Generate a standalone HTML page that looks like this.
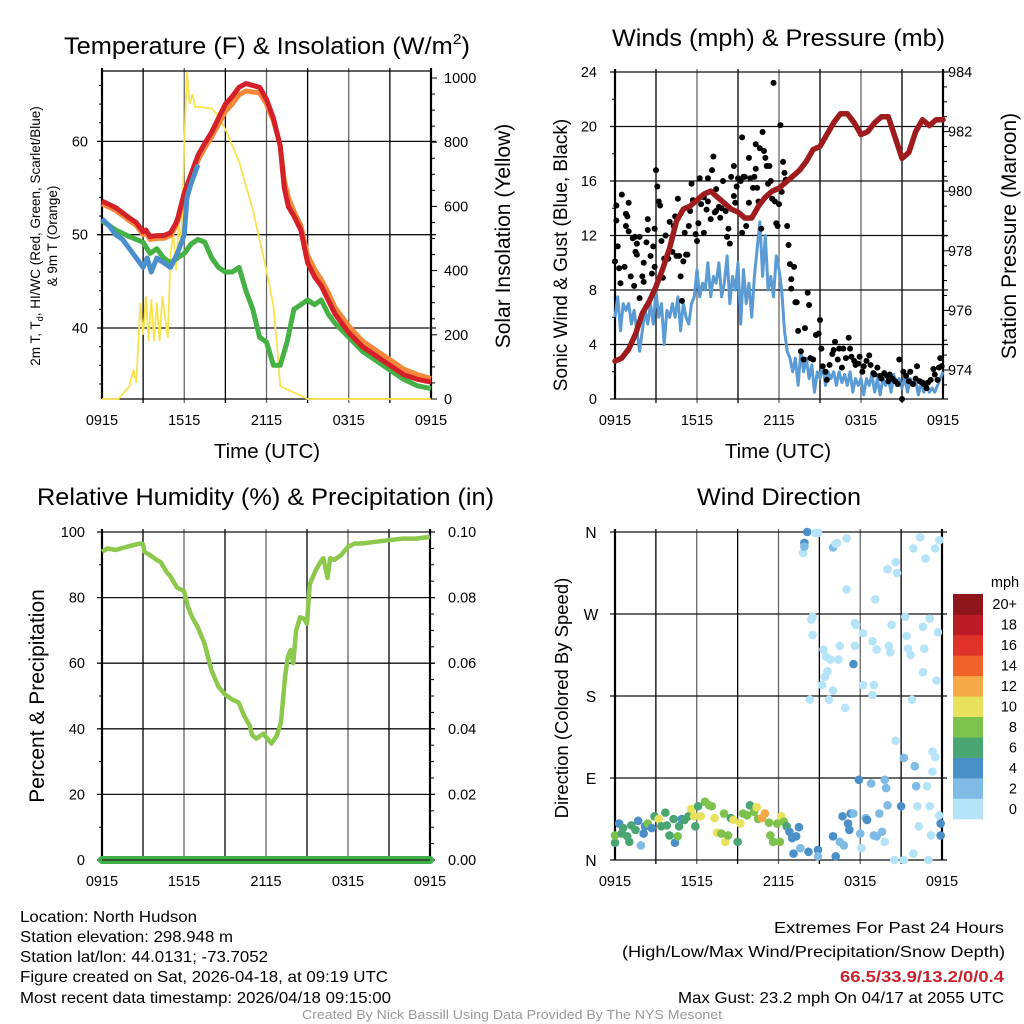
<!DOCTYPE html>
<html><head><meta charset="utf-8">
<style>
body{margin:0;background:#fff;}
svg{display:block;font-family:"Liberation Sans",Arial,sans-serif;}
</style></head>
<body>
<svg id="fig" width="1024" height="1024" viewBox="0 0 1024 1024" xmlns="http://www.w3.org/2000/svg">
<rect width="1024" height="1024" fill="#fff"/>
<text x="64" y="54" font-size="24" textLength="406" lengthAdjust="spacingAndGlyphs">Temperature (F) &amp; Insolation (W/m<tspan font-size="15" dy="-10">2</tspan><tspan dy="10">)</tspan></text>
<text x="612" y="46" font-size="24" textLength="333" lengthAdjust="spacingAndGlyphs">Winds (mph) &amp; Pressure (mb)</text>
<text x="37" y="505" font-size="24" textLength="457" lengthAdjust="spacingAndGlyphs">Relative Humidity (%) &amp; Precipitation (in)</text>
<text x="697" y="505" font-size="24" textLength="164" lengthAdjust="spacingAndGlyphs">Wind Direction</text>
<g id="p1"></g>
<g id="p2"></g>
<g id="p3"></g>
<g id="p4"></g>
<g font-size="16" lengthAdjust="spacingAndGlyphs">
<text x="20" y="922" textLength="177" lengthAdjust="spacingAndGlyphs">Location: North Hudson</text>
<text x="20" y="942" textLength="213" lengthAdjust="spacingAndGlyphs">Station elevation: 298.948 m</text>
<text x="20" y="962" textLength="248" lengthAdjust="spacingAndGlyphs">Station lat/lon: 44.0131; -73.7052</text>
<text x="20" y="982" textLength="368" lengthAdjust="spacingAndGlyphs">Figure created on Sat, 2026-04-18, at 09:19 UTC</text>
<text x="20" y="1003" textLength="371" lengthAdjust="spacingAndGlyphs">Most recent data timestamp: 2026/04/18 09:15:00</text>
</g>
<g font-size="16">
<text x="774" y="933" textLength="230" lengthAdjust="spacingAndGlyphs">Extremes For Past 24 Hours</text>
<text x="622" y="957" textLength="383" lengthAdjust="spacingAndGlyphs">(High/Low/Max Wind/Precipitation/Snow Depth)</text>
<text x="840" y="982" fill="#c8222b" font-weight="bold" textLength="164" lengthAdjust="spacingAndGlyphs">66.5/33.9/13.2/0/0.4</text>
<text x="678" y="1003" textLength="326" lengthAdjust="spacingAndGlyphs">Max Gust: 23.2 mph On 04/17 at 2055 UTC</text>
</g>
<text x="302" y="1019" font-size="13" fill="#999" textLength="420" lengthAdjust="spacingAndGlyphs">Created By Nick Bassill Using Data Provided By The NYS Mesonet</text>
</svg>
<script>
// ---- Panel 1 data ----
const redHours=[0,1,2,2.5,3,3.2,3.5,4,4.5,5,5.3,5.5,6,6.5,7,7.5,8,8.5,9,9.5,10,10.5,11,11.5,12,12.5,13,13.3,13.6,14,14.5,15,15.5,16,16.5,17,17.5,18,19,20,21,22,23,24];
const redTemp=[53.6,52.9,51.8,51.3,50.3,50.5,49.8,49.9,49.9,50.2,51,51.6,54.5,56.5,58.5,59.8,61,62.5,64,64.8,65.8,66.2,66,65.8,64.5,62.5,59.5,55,53,52,50.5,47,45.5,44.5,43,41.5,40.5,39.5,38,37,36,35,34.5,34.2];
const orangeTemp=[53.3,52.6,51.5,51,50,50.2,49.5,49.6,49.6,49.9,50.7,51.3,54,56,58,59.3,60.5,61.8,63.2,64,65,65.4,65.3,65.2,64,62.2,59.6,55.8,54,52.5,51,47.8,46.3,45.2,43.8,42.2,41.2,40.2,38.6,37.6,36.6,35.6,35,34.6];
const blueHours=[0,0.5,1,1.5,2,2.5,3,3.3,3.6,4,4.5,5,5.5,6,6.2,6.5,7];
const blueTemp=[51.7,51,50,49.5,48.5,47.5,46.5,47.5,46,47.5,47,46.5,48,50,54,55.5,57.5];
const greenHours=[0,1,2,3,3.5,4,4.5,5,6,6.5,7,7.5,8,8.5,9,9.5,10,10.5,11,11.5,12,12.5,13,13.5,14,14.5,15,15.5,16,16.5,17,18,19,20,21,22,23,24];
const greenTemp=[51.5,50.5,49.8,49.2,48,48.5,47.5,47,48,49,49.5,49.2,47.5,46.5,46,46,46.5,44,42,39,38.5,36,36,38.5,42,42.5,43,42.5,43,41.5,40.5,39,37.5,36.5,35.5,34.5,33.8,33.5];
const solarHours=[0,1.2,2,2.3,2.5,2.8,3,3.2,3.4,3.6,3.8,4,4.2,4.4,4.8,5,5.2,5.4,5.6,5.8,6,6.2,6.4,6.6,6.8,7,8,8.5,9,10,11,12,12.5,12.8,13,14,15,24];
const solarVals=[0,0,40,90,50,300,200,320,180,310,180,300,180,320,190,450,520,400,550,480,800,1020,920,950,910,910,905,880,840,740,590,400,290,150,40,20,0,0];
const tempTicks=[40,50,60];
const solarTicks=[0,200,400,600,800,1000];
const timeLabels=["0915","1515","2115","0315","0915"];
// ---- Panel 2 data ----
const windStep=0.2;
const windSpeed=[6,7.5,5,7,6.5,7,5.5,6.5,5,3.5,5,6.5,5.5,7,5.5,8,6,7,4,6.5,6,7,6,7.5,5,7,6,5.5,7,7.5,9.5,7.5,8.5,8,10,7.5,9,8.5,10,7.5,8.5,10.5,7,9,8,10,5.5,9.5,7,8.5,6,9,11,13,9,12,8,9,7.5,10.5,9.5,8,5,3.5,3,2,3,1,3.5,2,3,1.5,2.5,0.5,2,1.5,2.5,1,2,1.5,2,1,2,1.2,1.8,1,2,0.5,1.5,1,1.5,0.3,1.5,1,1.8,0.5,1.5,0.3,1.5,1,1.5,0.5,1.8,1,1.5,0.8,1.6,0.5,1.5,1,1.3,0.3,1.2,0.5,1,0.5,0.8,0.5,1,1.5,2];
const gustHours=[0,0.1,0.1,0.2,0.3,0.4,0.5,0.7,0.8,0.9,0.8,1,1,1.15,1.3,1.4,1.45,1.5,1.6,1.6,1.8,1.8,2,2.1,2.1,2.3,2.4,2.4,2.6,2.7,2.8,2.9,2.9,3,3.1,3.2,3.3,3.4,3.5,3.6,3.7,3.9,4,4.2,4.3,4.4,4.5,4.6,4.7,4.8,4.9,5,5.1,5.2,5.3,5.4,5.5,5.6,5.7,5.9,6,6.1,6.2,6.3,6.5,6.5,6.7,6.8,6.8,7,7.1,7.2,7.3,7.4,7.4,7.6,7.7,7.8,7.9,8.1,8.2,8.3,8.4,8.5,8.7,8.7,8.8,8.9,9,9.2,9.3,9.3,9.4,9.5,9.6,9.8,9.8,9.9,10.1,10.2,10.3,10.3,10.4,10.5,10.6,10.7,10.8,10.9,11,11.1,11.2,11.3,11.4,11.5,11.6,11.7,11.8,11.9,12,12.1,12.2,12.3,12.4,12.5,12.6,12.7,12.8,12.9,12.9,13.1,13.2,13.3,13.4,13.6,13.8,13.9,14.1,14.2,14.3,14.5,14.7,14.9,15,15.1,15.2,15.4,15.5,15.7,15.9,16,16.1,16.3,16.4,16.6,16.7,16.9,17.1,17.2,17.3,17.5,17.6,17.8,17.9,18.1,18.2,18.4,18.6,18.7,18.9,19,19.2,19.4,19.5,19.7,19.9,20,20.1,20.3,20.5,20.7,20.8,21,21.1,21.3,21.5,21.6,21.8,22,22.1,22.3,22.5,22.6,22.8,22.9,23.1,23.3,23.4,23.6,23.7,23.8,23.9];
const gustSpeed=[10.1,14.2,13.1,11.2,9.6,8.5,15,9.7,13.6,13.4,12.7,14.4,12.3,9,11.8,8.3,11.9,10.8,10.6,11.4,11.9,7.4,9,8.6,10,11.5,13.2,12.4,10.5,9.2,11.2,12.5,9.7,16.8,15.6,14.5,14.2,11.6,8.9,10.3,12,10.3,13,10.8,12.7,13.4,10.5,14.7,10.5,9,7.2,10.1,12.2,10.6,10.6,12.7,13.8,15.8,14.6,12.1,11.6,12.9,16.2,14.3,12.2,14.8,13.9,16.2,14.5,13.2,16.8,17.8,13.7,15.4,13.8,14.1,13.3,14,16,13.8,11.9,12.5,11.4,16.3,17.1,14.9,14.4,15.6,16.2,16,19.2,12.2,16.3,16.3,12.7,17.7,14.4,16.2,15.5,16.3,16.9,18.7,15.5,14.5,18.4,12.5,19.6,18.2,17.7,17.1,15.8,17.1,16,14.7,23.2,14.5,12.9,12.7,14.3,20.1,15.2,17.4,16.6,16.1,12.7,11.3,9.9,8.8,8.1,9.7,7.1,7.1,5,3.5,2.9,5.2,7.8,6.9,3,2.9,4.7,4.8,5.8,3.7,2.4,2,1.4,2.5,3.3,3.6,4.2,2.9,3.7,2.3,3.7,3,4.5,3.7,3.1,2.8,2.5,2.6,3.1,2,2.4,2.8,3.2,2.5,1.9,1.8,2.3,1.7,1.5,1.9,1.7,1.3,1.8,1.5,1.3,1.1,2.9,0,2,1.7,1.3,2,1.1,1.5,2.4,1.3,1.2,1.1,0.8,1.2,1.4,2.2,1.8,1.4,2.3,3,2.4];
const presHours=[0,0.5,1,1.5,2,2.5,3,3.5,4,4.5,5,5.5,6,6.5,7,7.5,8,8.5,9,9.5,10,10.5,11,11.5,12,12.5,13,13.5,14,14.5,15,15.5,16,16.5,17,17.5,18,18.5,19,19.5,20,20.5,21,21.5,22,22.5,23,23.5,24];
const presVals=[974.3,974.4,974.7,975.2,975.9,976.3,976.8,977.4,978.1,979,979.4,979.5,979.7,979.9,980,979.8,979.6,979.4,979.3,979.1,979.1,979.5,979.8,980,980.1,980.3,980.5,980.7,981,981.4,981.5,981.9,982.3,982.6,982.6,982.3,981.9,982,982.3,982.5,982.5,981.8,981.1,981.3,982,982.4,982.2,982.4,982.4];
const windTicks=[0,4,8,12,16,20,24];
const presTicks=[974,976,978,980,982,984];
// ---- Panel 3 data ----
const rhHours=[0,0.4,1,2,2.8,3,3.1,3.5,4,4.3,4.7,5,5.5,6,6.3,6.6,7,7.5,8,8.5,9,9.5,10,10.4,10.8,11,11.3,11.8,12,12.4,12.8,13.1,13.4,13.6,13.8,14,14.2,14.5,14.8,15,15.2,15.6,16,16.2,16.5,16.7,17,17.5,18,18.5,19,20,21,22,23,24];
const rhVals=[94,95,94.5,95.7,96.5,96.3,94,93,91.5,90.8,88,86.5,83,82,77,74,71,66,58,53,50.5,49,48,44,41,38,37,38.5,37.5,35.5,38,42,56,62,64,60,70,74,73.5,72,84,88,91,92,86,92,91.5,93,95.5,96.5,96.5,97,97.5,98,98,98.5];
const precipHours=[0,24];
const precipVals=[0,0];
const rhTicks=[0,20,40,60,80,100];
const precipTicks=["0.00","0.02","0.04","0.06","0.08","0.10"];
// ---- Panel 4 data ----
const dirHours=[0,0,0.3,0.5,0.6,0.9,1.05,1.2,1.5,1.7,1.9,2.1,2.2,2.4,2.7,2.9,3.2,3.4,3.7,3.8,4,4.3,4.4,4.6,4.7,4.9,5.1,5.4,5.6,5.8,5.9,6.1,6.3,6.6,6.9,7.1,7.3,7.5,7.8,8,8.1,8.3,8.5,8.7,9,9.2,9.4,9.7,9.9,10.2,10.4,10.5,10.8,11,11.3,11.4,11.6,11.9,12.1,12.2,12.4,12.6,12.8,13,13.1,13.3,13.5,13.6,14.2,14.9,14.9,16.2,16,16.5,16.8,16.7,17.1,17.3,17.2,17.5,17.9,18.1,18,18.4,18.5,18.8,19,19.2,19.4,19.6,19.8,19.8,19.9,20,20.6,20.5,21,21.2,21.2,21.9,22,22.1,22.2,22.3,22.9,23,23.1,23.2,23.3,23.3,23.5,23.8,23.9,23.9,13.8,13.9,13.9,14.1,14.3,14.4,14.5,14.5,14.7,14.9,15.2,15.3,15.4,15.5,15.6,15.7,15.8,16,16,16.2,16.3,16.4,16.5,16.9,17,17,17.5,17.6,17.6,17.7,18.2,18.2,18.9,19,18.9,19.1,19.2,20,20.1,20.2,20.3,20.6,20.7,21.3,21.4,21.5,21.7,21.8,21.9,22.4,22.6,22.7,22.8,22.6,23.1,23.5,23.6,23.7,23.8];
const dirDeg=[19,27,40,29,35,26,20,38,33,43,16,29,37,40,35,48,45,37,52,38,27,45,19,26,37,45,44,48,56,48,37,59,48,64,60,59,46,30,29,51,20,27,46,44,20,40,51,49,60,53,58,45,46,51,41,27,20,40,20,48,42,37,31,24,7,26,36,13,9,11,4,4,26,20,16,48,40,51,33,51,88,13,29,46,44,84,27,26,51,31,20,88,79,60,131,0,59,112,0,7,103,81,59,37,81,0,59,27,97,119,113,49,27,40,337,348,344,360,176,264,267,247,359,359,192,231,201,223,207,176,220,186,343,347,348,220,235,167,297,353,215,260,235,258,249,192,181,192,240,286,231,319,235,228,258,327,315,267,246,232,225,176,342,354,256,232,331,206,265,342,197,250,351];
const dirSpeed=[7,8,4,7,7,6,6,6,7,4,3,4,4,8,4,7,10,6,6,6,6,6,4,8,6,4,6,6,10,10,6,6,10,8,8,8,10,10,8,8,10,8,6,10,6,10,8,8,6,8,10,8,12,12,8,8,8,8,8,10,8,6,4,4,4,4,4,2,4,4,2,4,4,2,2,4,4,4,4,2,4,0,2,2,4,2,2,2,2,2,0,2,2,2,0,0,4,2,0,0,2,2,0,0,0,0,0,0,0,0,0,0,4,4,0,4,2,4,0,0,0,0,0,0,0,0,0,0,0,0,0,0,2,0,0,0,0,0,0,0,4,0,0,0,0,0,0,0,0,0,0,0,0,0,0,0,0,0,0,0,0,0,0,0,0,0,0,0,0,0,0,0,0];
const speedBinLabels=["0","2","4","6","8","10","12","14","16","18","20+"];
const speedBinColors=["#b5e3f8","#7fbbe4","#4a8fc7","#49a672","#7dc24c","#e7e15b","#f6a947","#ef6229","#df3228","#bb1b24","#8e1519"];
const dirLabels=["N","E","S","W","N"];
const dirTickDeg=[0,90,180,270,360];

const NS="http://www.w3.org/2000/svg";
function mk(parent,tag,attrs){const e=document.createElementNS(NS,tag);for(const k in attrs)e.setAttribute(k,attrs[k]);parent.appendChild(e);return e;}
function txt(parent,x,y,s,size,anchor,rot){const t=mk(parent,"text",{x:x,y:y,"font-size":size,"text-anchor":anchor||"middle"});if(rot)t.setAttribute("transform","rotate(-90 "+x+" "+y+")");t.textContent=s;return t;}
function linePath(xs,ys,fx,fy){return xs.map((h,i)=>(i?"L":"M")+fx(h).toFixed(1)+","+fy(ys[i]).toFixed(1)).join("");}

function frame(g,L,R,T,B,hlines,fy){
  const sx=h=>L+h*(R-L)/24;
  for(let k=1;k<8;k++){const x=sx(k*3);
    const l=mk(g,"line",{x1:x,x2:x,y1:T-3,y2:B+4,stroke:k%2?"#000":"#666","stroke-width":1.3});
    
    }
  hlines.forEach(v=>{const y=fy(v);
    const l=mk(g,"line",{x1:L-5,x2:R+5,y1:y,y2:y,stroke:"#111","stroke-width":1.3});
    
    });
  mk(g,"line",{x1:L,x2:L,y1:T-3,y2:B,stroke:"#000","stroke-width":2.2});
  mk(g,"line",{x1:R,x2:R,y1:T-3,y2:B,stroke:"#000","stroke-width":2.2});
  timeLabels.forEach((s,i)=>{const t=txt(g,sx(i*6),B+26,s,14.5);
    
    });
  return sx;
}

// Panel 1
(function(){
  const g=document.getElementById("p1");
  const L=102,R=431,T=71,B=399;
  const fy=v=>328-(v-40)*9.33;
  const fs=v=>399-v*0.321;
  const sx=frame(g,L,R,T,B,tempTicks,fy);
  mk(g,"line",{x1:L,x2:R,y1:T,y2:T,stroke:"#000","stroke-width":1.3});
  mk(g,"line",{x1:L,x2:R,y1:B,y2:B,stroke:"#000","stroke-width":1.3});
  for(let v=34;v<=66;v+=2){const y=fy(v);mk(g,"line",{x1:L-3,x2:L,y1:y,y2:y,stroke:"#000"});}
  for(let v=0;v<=1000;v+=50){const y=fs(v);mk(g,"line",{x1:R,x2:R+(v%200?4:6),y1:y,y2:y,stroke:"#000"});}
  tempTicks.forEach(v=>{const t=txt(g,88,fy(v)+5,String(v),14.5,"end");
    
    });
  solarTicks.forEach(v=>{const t=txt(g,444,fs(v)+5,String(v),14.5,"start");
    
    });
  const y1=txt(g,40,236,"2m T, T",13.5,"middle",true);
  const sub=mk(y1,"tspan",{"font-size":9,dy:3});sub.textContent="d";
  const rest=mk(y1,"tspan",{dy:-3});rest.textContent=", HI/WC (Red, Green, Scarlet/Blue)";
  
  
  const y2=txt(g,57,236,"& 9m T (Orange)",13.5,"middle",true);
  
  
  const yr=txt(g,510,236,"Solar Insolation (Yellow)",21,"middle",true);
  
  
  const xt=txt(g,267,458,"Time (UTC)",20.5);
  
  
  const s1=mk(g,"path",{d:linePath(solarHours,solarVals,sx,fs),fill:"none",stroke:"#f9e24d","stroke-width":1.8});
  
  
  const g1=mk(g,"path",{d:linePath(greenHours,greenTemp,sx,fy),fill:"none",stroke:"#45b043","stroke-width":5,"stroke-linejoin":"round"});
  
  
  const o1=mk(g,"path",{d:linePath(redHours,orangeTemp,sx,fy),fill:"none",stroke:"#f7883a","stroke-width":5,"stroke-linejoin":"round"});
  
  
  const r1=mk(g,"path",{d:linePath(redHours,redTemp,sx,fy),fill:"none",stroke:"#d42029","stroke-width":5,"stroke-linejoin":"round"});
  
  
  const b1=mk(g,"path",{d:linePath(blueHours,blueTemp,sx,fy),fill:"none",stroke:"#4a8fcb","stroke-width":5,"stroke-linejoin":"round"});
  
  
})();

// Panel 2
(function(){
  const g=document.getElementById("p2");
  const L=615,R=943,T=72,B=399;
  const fy=v=>399-v*13.625;
  const fp=p=>370-(p-974)*29.8;
  const sx=frame(g,L,R,T,B,windTicks,fy);
  for(let v=2;v<24;v+=4){const y=fy(v);mk(g,"line",{x1:L-3,x2:L,y1:y,y2:y,stroke:"#000"});}
  for(let p=973.5;p<=984;p+=0.5){const y=fp(p);if(y>=T-1&&y<=B)mk(g,"line",{x1:R,x2:R+(p%2?4:6),y1:y,y2:y,stroke:"#000"});}
  windTicks.forEach(v=>{const t=txt(g,597,fy(v)+5,String(v),14.5,"end");
    
    });
  presTicks.forEach(v=>{const t=txt(g,948,fp(v)+5,String(v),14.5,"start");
    
    });
  const yl=txt(g,567,255,"Sonic Wind & Gust (Blue, Black)",19,"middle",true);
  
  
  const yr=txt(g,1016,236,"Station Pressure (Maroon)",21,"middle",true);
  
  
  const xt=txt(g,778,458,"Time (UTC)",20.5);
  
  
  const wh=windSpeed.map((v,i)=>i*windStep);
  const w=mk(g,"path",{d:linePath(wh,windSpeed,sx,fy),fill:"none",stroke:"#5b9bd5","stroke-width":3,"stroke-linejoin":"round"});
  
  
  gustHours.forEach((h,i)=>{const c=mk(g,"circle",{cx:sx(h),cy:fy(gustSpeed[i]),r:3,fill:"#000"});
    
    });
  const p=mk(g,"path",{d:linePath(presHours,presVals,sx,fp),fill:"none",stroke:"#9e1b1e","stroke-width":5.5,"stroke-linejoin":"round","stroke-linecap":"round"});
  
  
})();

// Panel 3
(function(){
  const g=document.getElementById("p3");
  const L=102,R=430,T=532,B=860;
  const fy=v=>860-v*3.28;
  const sx=frame(g,L,R,T,B,rhTicks,fy);
  for(let v=10;v<100;v+=20){const y=fy(v);mk(g,"line",{x1:L-3,x2:L,y1:y,y2:y,stroke:"#000"});}
  for(let v=5;v<100;v+=5){const y=fy(v);mk(g,"line",{x1:R,x2:R+4,y1:y,y2:y,stroke:"#000"});}
  rhTicks.forEach(v=>{const t=txt(g,85,fy(v)+5,String(v),14.5,"end");
    
    });
  precipTicks.forEach((s,i)=>{const t=txt(g,448,fy(i*20)+5,s,14.5,"start");
    
    });
  const yl=txt(g,44,696,"Percent & Precipitation",21,"middle",true);
  
  
  const rh=mk(g,"path",{d:linePath(rhHours,rhVals,sx,fy),fill:"none",stroke:"#8cc84b","stroke-width":4.5,"stroke-linejoin":"round"});
  
  
  const pr=mk(g,"path",{d:linePath(precipHours,precipVals.map(v=>v*1000),sx,fy),fill:"none",stroke:"#3fae49","stroke-width":8,"stroke-linecap":"round"});
  
  
  mk(g,"line",{x1:L,x2:R,y1:B,y2:B,stroke:"#222","stroke-width":1.2});
})();

// Panel 4
(function(){
  const g=document.getElementById("p4");
  const L=615,R=942,T=532,B=860;
  const fy=d=>860-d*328/360;
  const sx=frame(g,L,R,T,B,dirTickDeg,fy);
  dirLabels.forEach((s,i)=>{const t=txt(g,591,fy(dirTickDeg[i])+6,s,15.5);
    
    });
  const yl=txt(g,568,698,"Direction (Colored By Speed)",18.5,"middle",true);
  
  
  dirHours.forEach((h,i)=>{const bin=Math.min(10,Math.floor(dirSpeed[i]/2));
    const c=mk(g,"circle",{cx:sx(h),cy:fy(dirDeg[i]),r:4.3,fill:speedBinColors[bin]});
    
    });
  const cb=mk(g,"g",{});
  
  
  const bh=225/11;
  speedBinColors.forEach((col,i)=>{const y=594+(10-i)*bh;
    mk(cb,"rect",{x:953,y:y,width:30,height:bh+0.3,fill:col});
    const t=txt(cb,1017,y+bh/2+5,speedBinLabels[i],14.5,"end");
    
    });
  const u=txt(cb,1005,587,"mph",14.5);
  
  
})();
</script>
</body></html>
